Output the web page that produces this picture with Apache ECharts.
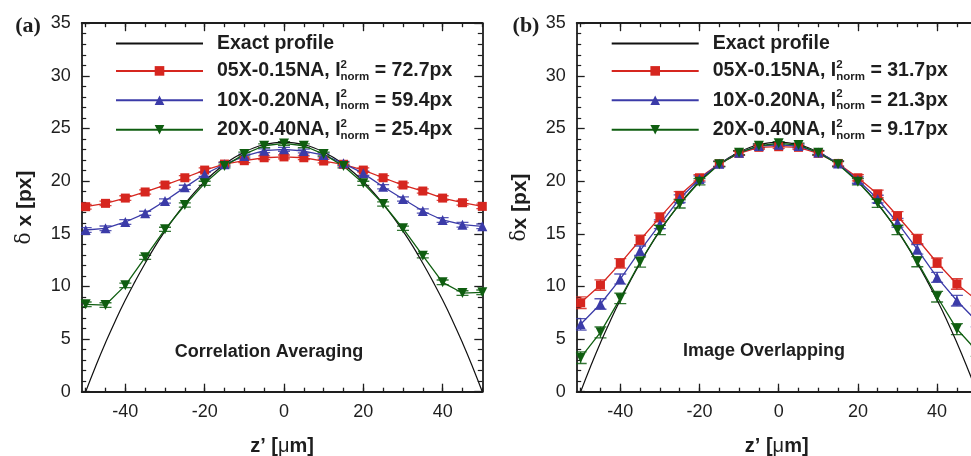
<!DOCTYPE html>
<html><head><meta charset="utf-8">
<script src="https://cdn.jsdelivr.net/npm/echarts@6/dist/echarts.min.js"></script>
<style>html,body{margin:0;padding:0;background:#fff}#c{width:971px;height:456px}</style>
</head><body><div id="c"></div>
<script>
// ---------- data ----------
const zVals = [-50,-45,-40,-35,-30,-25,-20,-15,-10,-5,0,5,10,15,20,25,30,35,40,45,50];
const zExact = [-50,-47.5,-45,-42.5,-40,-37.5,-35,-32.5,-30,-27.5,-25,-22.5,-20,-17.5,-15,-12.5,-10,-7.5,-5,-2.5,0,2.5,5,7.5,10,12.5,15,17.5,20,22.5,25,27.5,30,32.5,35,37.5,40,42.5,45,47.5,50];
const exactVals = [0,2.4,4.65,6.75,8.7,10.5,12.2,13.8,15.25,16.6,17.83,18.96,19.96,20.84,21.6,22.24,22.76,23.17,23.46,23.64,23.7,23.64,23.46,23.17,22.76,22.24,21.6,20.84,19.96,18.96,17.83,16.6,15.25,13.8,12.2,10.5,8.7,6.75,4.65,2.4,0];

const redA   = [17.57,17.89,18.39,18.97,19.63,20.32,21.05,21.62,21.94,22.22,22.3,22.22,21.91,21.6,21.05,20.32,19.63,19.06,18.39,17.95,17.6];
const blueA  = [15.36,15.52,16.12,16.94,18.11,19.41,20.65,21.6,22.38,22.89,23.02,22.86,22.48,21.69,20.74,19.47,18.3,17.16,16.31,15.86,15.71];
const greenA = [8.3,8.23,10.1,12.76,15.42,17.73,19.79,21.43,22.57,23.36,23.58,23.36,22.57,21.43,19.79,17.83,15.52,12.92,10.39,9.37,9.44];
const errRedA   = [0.22,0.22,0.22,0.2,0.2,0.2,0.2,0.18,0.18,0.18,0.18,0.18,0.18,0.18,0.2,0.2,0.2,0.2,0.22,0.22,0.22];
const errBlueA  = [0.22,0.22,0.22,0.2,0.2,0.2,0.2,0.18,0.18,0.18,0.18,0.18,0.18,0.18,0.2,0.2,0.2,0.2,0.22,0.22,0.22];
const errGreenA = [0.22,0.22,0.22,0.2,0.2,0.2,0.2,0.18,0.18,0.18,0.18,0.18,0.18,0.18,0.2,0.2,0.2,0.2,0.22,0.22,0.22];

const redB   = [8.45,10.13,12.19,14.41,16.56,18.65,20.32,21.65,22.64,23.21,23.27,23.21,22.64,21.68,20.32,18.78,16.69,14.5,12.25,10.23,8.7];
const blueB  = [6.4,8.33,10.7,13.39,15.9,18.33,20.2,21.65,22.7,23.33,23.45,23.33,22.73,21.68,20.1,18.3,16.05,13.52,10.86,8.64,6.7];
const greenB = [3.23,5.64,8.87,12.32,15.36,17.83,19.94,21.6,22.7,23.36,23.59,23.43,22.7,21.6,19.94,17.89,15.36,12.35,9.02,5.95,3.9];
const errRedB   = [0.55,0.5,0.45,0.45,0.42,0.36,0.3,0.25,0.2,0.18,0.15,0.18,0.2,0.25,0.3,0.36,0.42,0.45,0.45,0.5,0.55];
const errBlueB  = [0.55,0.5,0.48,0.45,0.42,0.36,0.3,0.25,0.2,0.18,0.15,0.18,0.2,0.25,0.3,0.36,0.42,0.45,0.48,0.5,0.55];
const errGreenB = [0.55,0.52,0.5,0.48,0.45,0.38,0.3,0.25,0.2,0.18,0.15,0.18,0.2,0.25,0.3,0.38,0.45,0.48,0.5,0.52,0.55];

const objectives = ['05X-0.15NA','10X-0.20NA','20X-0.40NA'];
const normA = ['72.7','59.4','25.4'];
const normB = ['31.7','21.3','9.17'];
const exactName = 'Exact profile';
const xTickMinor = [-50,-45,-40,-35,-30,-25,-20,-15,-10,-5,0,5,10,15,20,25,30,35,40,45,50];
const xTickMajor = [-40,-20,0,20,40];
const panelLabels = ['(a)','(b)'];
const insetLabels = ['Correlation Averaging','Image Overlapping'];

// ---------- styles ----------
const FONT = 'Liberation Sans';
const INK = '#1e1e1e';
const colors = ['#d6261f','#3b3ba8','#0f5e10'];
const symbols = ['rect','triangle','triangle'];
const rotations = [0,0,180];
const symSizes = [9,10,10];

const grids = [
  {left: 81.7, top: 23.2, width: 400.6, height: 368.5, outerBoundsMode: 'none', containLabel: false},
  {left: 576.7, top: 23.2, width: 400, height: 368.5, outerBoundsMode: 'none', containLabel: false}
];

const nm = (o, n) => o + ', I2norm = ' + n + 'px';
const richLegend = {
  g: {width: 9},
  t: {fontFamily: FONT, fontWeight: 'bold', fontSize: 19.5, color: INK, lineHeight: 24},
  sup: {fontFamily: FONT, fontWeight: 'bold', fontSize: 11.5, color: INK, lineHeight: 12, verticalAlign: 'top', width: 0},
  sub: {fontFamily: FONT, fontWeight: 'bold', fontSize: 11.5, color: INK, lineHeight: 12, verticalAlign: 'bottom'}
};
function legendFmt(name) {
  if (name === exactName) return '{g|}{t|' + name + '}';
  const p = name.split(', I2norm = ');
  return '{g|}{t|' + p[0] + ', I}{sup|2}{sub|norm}{t| = ' + p[1] + '}';
}

function xAxesFor(gi) {
  const base = {gridIndex: gi, type: 'value', min: -51, max: 50, splitLine: {show: false}};
  const line = {show: true, onZero: false, lineStyle: {color: INK, width: 1.8}};
  return [
    Object.assign({}, base, {
      position: 'bottom', axisLine: line,
      axisTick: {show: true, inside: true, length: 4, customValues: xTickMinor, lineStyle: {color: INK, width: 1.3}},
      axisLabel: {show: true, customValues: xTickMajor, margin: 11, fontFamily: FONT, fontSize: 18, color: INK},
      name: '{b|z’ [}{m|μ}{b|m]}', nameLocation: 'middle', nameGap: 45,
      nameTextStyle: {rich: {b: {fontFamily: FONT, fontWeight: 'bold', fontSize: 20, color: INK}, m: {fontFamily: FONT, fontSize: 20, color: INK}}}
    }),
    Object.assign({}, base, {
      position: 'bottom', axisLine: {show: false, onZero: false},
      axisTick: {show: true, inside: true, length: 8, customValues: xTickMajor, lineStyle: {color: INK, width: 1.3}},
      axisLabel: {show: false}
    }),
    Object.assign({}, base, {
      position: 'top', axisLine: line,
      axisTick: {show: true, inside: true, length: 4, customValues: xTickMinor, lineStyle: {color: INK, width: 1.3}},
      axisLabel: {show: false}
    }),
    Object.assign({}, base, {
      position: 'top', axisLine: {show: false, onZero: false},
      axisTick: {show: true, inside: true, length: 8, customValues: xTickMajor, lineStyle: {color: INK, width: 1.3}},
      axisLabel: {show: false}
    })
  ];
}
function yAxisFor(gi, pos, showLabel, name) {
  return {
    gridIndex: gi, type: 'value', min: 0, max: 35, interval: 5, position: pos,
    axisLine: {show: true, onZero: false, lineStyle: {color: INK, width: 1.8}},
    axisTick: {show: true, inside: true, length: 8, lineStyle: {color: INK, width: 1.3}},
    minorTick: {show: true, splitNumber: 5, length: 4.5, lineStyle: {color: INK, width: 1.2}},
    axisLabel: {show: showLabel, margin: 11, fontFamily: FONT, fontSize: 18, color: INK},
    splitLine: {show: false},
    name: name || '', nameLocation: 'middle', nameGap: 46, nameRotate: 90,
    nameTextStyle: {rich: {d: {fontFamily: 'DejaVu Serif', fontSize: 20, color: INK}, b: {fontFamily: FONT, fontWeight: 'bold', fontSize: 21, color: INK}}}
  };
}

const xAxes = xAxesFor(0).concat(xAxesFor(1));
const yAxes = [
  yAxisFor(0, 'left', true, '{d|δ}{b| x [px]}'),
  yAxisFor(0, 'right', false),
  yAxisFor(1, 'left', true, '{d|δ}{b|x [px]}')
];

function errRender(params, api) {
  const x = api.value(0), y = api.value(1), e = api.value(2);
  const top = api.coord([x, y + e]), bot = api.coord([x, y - e]);
  const hw = 6;
  const st = {stroke: api.visual('color'), lineWidth: 1.3, opacity: 0.85};
  return {type: 'group', children: [
    {type: 'line', shape: {x1: top[0], y1: top[1], x2: bot[0], y2: bot[1]}, style: st},
    {type: 'line', shape: {x1: top[0] - hw, y1: top[1], x2: top[0] + hw, y2: top[1]}, style: st},
    {type: 'line', shape: {x1: bot[0] - hw, y1: bot[1], x2: bot[0] + hw, y2: bot[1]}, style: st}
  ]};
}

const series = [];
const legends = [];
const panelData = [
  {vals: [redA, blueA, greenA], errs: [errRedA, errBlueA, errGreenA], norms: normA},
  {vals: [redB, blueB, greenB], errs: [errRedB, errBlueB, errGreenB], norms: normB}
];
panelData.forEach((pd, gi) => {
  const xi = gi * 4, yi = gi === 0 ? 0 : 2;
  const names = [{name: exactName, itemStyle: {opacity: 0}}];
  series.push({
    name: exactName, type: 'line', xAxisIndex: xi, yAxisIndex: yi, smooth: true, symbol: 'none',
    data: zExact.map((z, i) => [z, exactVals[i]]),
    lineStyle: {color: '#111', width: 1.2}, itemStyle: {color: '#111'}, z: 3, clip: true
  });
  pd.vals.forEach((vals, k) => {
    series.push({
      name: 'err' + gi + k, type: 'custom', xAxisIndex: xi, yAxisIndex: yi, renderItem: errRender,
      itemStyle: {color: colors[k]}, encode: {x: 0, y: 1},
      data: zVals.map((z, i) => [z, vals[i], pd.errs[k][i]]), z: 2, clip: true, silent: true
    });
  });
  pd.vals.forEach((vals, k) => {
    const name = nm(objectives[k], pd.norms[k]);
    names.push(name);
    series.push({
      name: name, type: 'line', xAxisIndex: xi, yAxisIndex: yi,
      data: zVals.map((z, i) => [z, vals[i]]),
      symbol: symbols[k], symbolSize: symSizes[k], symbolRotate: rotations[k], showSymbol: true,
      lineStyle: {color: colors[k], width: 1.3}, itemStyle: {color: colors[k]}, z: 4, clip: true
    });
  });
  legends.push({
    orient: 'vertical', left: gi === 0 ? 115 : 610.7, top: 33.5, padding: 0,
    itemWidth: 87, itemHeight: 12, itemGap: 5.4, align: 'left',
    data: names, formatter: legendFmt, selectedMode: false,
    textStyle: {rich: richLegend}
  });
});

const option = {
  animation: false,
  backgroundColor: '#fff',
  grid: grids,
  xAxis: xAxes,
  yAxis: yAxes,
  legend: legends,
  series: series,
  graphic: [
    {type: 'text', x: 28, y: 26, style: {text: panelLabels[0], font: 'bold 22px "Liberation Serif"', fill: INK, textAlign: 'center', textVerticalAlign: 'middle'}},
    {type: 'text', x: 526, y: 26, style: {text: panelLabels[1], font: 'bold 22px "Liberation Serif"', fill: INK, textAlign: 'center', textVerticalAlign: 'middle'}},
    {type: 'text', x: 269, y: 352, style: {text: insetLabels[0], font: 'bold 18px "Liberation Sans"', fill: INK, textAlign: 'center', textVerticalAlign: 'middle'}},
    {type: 'text', x: 764, y: 351, style: {text: insetLabels[1], font: 'bold 18px "Liberation Sans"', fill: INK, textAlign: 'center', textVerticalAlign: 'middle'}}
  ]
};
const chart = echarts.init(document.getElementById('c'), null, {renderer: 'canvas'});
chart.setOption(option);
</script></body></html>
